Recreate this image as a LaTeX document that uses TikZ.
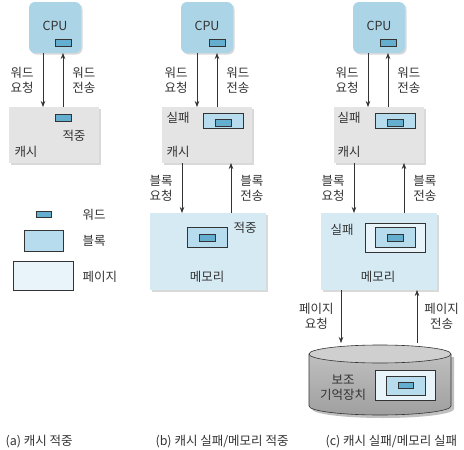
\documentclass[tikz,border=0pt]{standalone}
\usepackage{fontspec}
\setmainfont{Noto Sans CJK KR}
\usetikzlibrary{%
  arrows.meta,%
  shadows%
}
\definecolor{cpublue}{HTML}{ABD4E6}
\definecolor{memblue}{HTML}{D6EAF4}
\definecolor{cachegray}{HTML}{E4E4E4}
\definecolor{wordblue}{HTML}{64AED0}
\definecolor{blockblue}{HTML}{B7DCED}
\definecolor{pageblue}{HTML}{E8F4FA}
\definecolor{linegray}{HTML}{333333}
\tikzset{
  box/.style={inner sep=0pt, outer sep=0pt,
    drop shadow={shadow xshift=1.5pt, shadow yshift=-1.5pt, opacity=.3}},
  cpubox/.style={box, fill=cpublue, rounded corners=6pt,
    minimum width=52pt, minimum height=51pt},
  cachebox/.style={box, fill=cachegray, minimum width=90pt, minimum height=56pt},
  membox/.style={box, fill=memblue, minimum width=116pt, minimum height=77pt},
  wordbox/.style={draw=linegray, line width=.6pt, fill=wordblue, inner sep=0pt,
    minimum width=16pt, minimum height=7pt},
  blockbox/.style={draw=linegray, line width=.6pt, fill=blockblue, inner sep=0pt,
    minimum width=40pt, minimum height=20pt},
  pagebox/.style={draw=linegray, line width=.6pt, fill=pageblue, inner sep=0pt,
    minimum width=60pt, minimum height=29pt},
  arr/.style={draw=linegray, line width=.7pt, -{Stealth[length=6pt,width=4.5pt]}},
  lbl/.style={align=center, inner sep=0pt}
}

\begin{document}
\begin{tikzpicture}[x=1pt, y=1pt,
    every node/.style={font=\fontsize{12.5}{15}\selectfont, text=linegray}]
  \useasboundingbox (0,0) rectangle (464,-450);

  % (a) cache hit
  \node [cpubox] (cpuA) at (55,-27.5) {};
  \node at (55,-26) {CPU};
  \node [wordbox] (cpuwordA) at (63.5,-42.5) {};
  \node [cachebox] (cacheA) at (54,-135) {};
  \node [wordbox] (cachewordA) at (63.5,-118) {};
  \node (hitA) at (74,-136) {적중};
  \node (cachelblA) at (26,-152) {캐시};
  \draw [arr] ([xshift=-12pt]cpuA.south) -- ([xshift=-12pt]cpuA.south |- cacheA.north)
    node [midway, left=9pt, lbl] {워드\\요청};
  \draw [arr] ([xshift=8pt]cpuA.south |- cacheA.north) -- ([xshift=8pt]cpuA.south)
    node [midway, right=9pt, lbl] {워드\\전송};

  % legend
  \node [wordbox, minimum width=15pt, minimum height=6pt] (lgword) at (43.5,-214.5) {};
  \node [anchor=west] at (79,-214.5) {워드};
  \node [blockbox, minimum width=39pt, minimum height=21pt] (lgblock) at (43.5,-240.5) {};
  \node [anchor=west] at (79,-241) {블록};
  \node [pagebox] (lgpage) at (43,-275.5) {};
  \node [anchor=west] at (79,-277) {페이지};

  % (b) cache miss, memory hit
  \node [cpubox] (cpuB) at (207,-27.5) {};
  \node at (207,-26) {CPU};
  \node [wordbox] (cpuwordB) at (217,-42.5) {};
  \node [cachebox] (cacheB) at (207,-135) {};
  \node (missB) at (178,-118) {실패};
  \node [blockbox, minimum height=15pt] (cacheblockB) at (223,-120.5) {};
  \node [wordbox] at (223.5,-122.5) {};
  \node (cachelblB) at (178,-152) {캐시};
  \node [membox] (memB) at (208,-251.5) {};
  \node (hitB) at (245,-228) {적중};
  \node [blockbox] (memblockB) at (207,-237) {};
  \node [wordbox] at (207,-238) {};
  \node (memlblB) at (207,-277) {메모리};
  \draw [arr] ([xshift=-10pt]cpuB.south) -- ([xshift=-10pt]cpuB.south |- cacheB.north)
    node [midway, left=9pt, lbl] {워드\\요청};
  \draw [arr] ([xshift=10pt]cpuB.south |- cacheB.north) -- ([xshift=10pt]cpuB.south)
    node [midway, right=9pt, lbl] {워드\\전송};
  \draw [arr] ([xshift=-25pt]cacheB.south) -- ([xshift=-25pt]cacheB.south |- memB.north)
    node [midway, left=9pt, lbl] {블록\\요청};
  \draw [arr] ([xshift=24pt]cacheB.south |- memB.north) -- ([xshift=24pt]cacheB.south)
    node [midway, right=9pt, lbl] {블록\\전송};

  % (c) cache miss, memory miss
  \node [cpubox] (cpuC) at (379,-27.5) {};
  \node at (379,-26) {CPU};
  \node [wordbox] (cpuwordC) at (388.5,-42.5) {};
  \node [cachebox] (cacheC) at (379,-135) {};
  \node (missC) at (349,-118) {실패};
  \node [blockbox, minimum height=15pt] (cacheblockC) at (395,-120.5) {};
  \node [wordbox] at (395.5,-122.5) {};
  \node (cachelblC) at (349,-152) {캐시};
  \node [membox] (memC) at (379,-251.5) {};
  \node (missmemC) at (342,-230) {실패};
  \node [pagebox] (mempageC) at (395,-237.5) {};
  \node [blockbox] (memblockC) at (395,-237) {};
  \node [wordbox] at (395.5,-237.5) {};
  \node (memlblC) at (378,-277) {메모리};
  % disk
  \coordinate (disk) at (380,-343);
  \begin{scope}[draw=linegray, line width=.6pt]
    \fill [black, opacity=.25] (312,-357) -- (312,-409)
      arc [start angle=180, end angle=360, x radius=71, y radius=9] -- (454,-357) -- cycle;
    \shade [top color=gray!50, bottom color=gray!75]
      (309,-354) -- (309,-406)
      arc [start angle=180, end angle=360, x radius=71, y radius=9] -- (451,-354) -- cycle;
    \draw (309,-354) -- (309,-406)
      arc [start angle=180, end angle=360, x radius=71, y radius=9] -- (451,-354);
    \filldraw [fill=gray!38] (380,-354) ellipse [x radius=71, y radius=9];
  \end{scope}
  \node [lbl] (disklbl) at (343,-388) {보조\\기억장치};
  \node [pagebox, minimum height=30pt] (diskpage) at (405,-385) {};
  \node [blockbox, minimum width=39pt, minimum height=19pt] (diskblock) at (405.5,-385.5) {};
  \node [wordbox, minimum width=15pt, minimum height=6pt] at (405.5,-385.5) {};
  \draw [arr] ([xshift=-11pt]cpuC.south) -- ([xshift=-11pt]cpuC.south |- cacheC.north)
    node [midway, left=9pt, lbl] {워드\\요청};
  \draw [arr] ([xshift=9pt]cpuC.south |- cacheC.north) -- ([xshift=9pt]cpuC.south)
    node [midway, right=9pt, lbl] {워드\\전송};
  \draw [arr] ([xshift=-25pt]cacheC.south) -- ([xshift=-25pt]cacheC.south |- memC.north)
    node [midway, left=9pt, lbl] {블록\\요청};
  \draw [arr] ([xshift=25pt]cacheC.south |- memC.north) -- ([xshift=25pt]cacheC.south)
    node [midway, right=9pt, lbl] {블록\\전송};
  \draw [arr] ([xshift=-38pt]memC.south) -- ([xshift=-38pt]memC.south |- disk)
    node [midway, left=7pt, lbl] {페이지\\요청};
  \draw [arr] ([xshift=38pt]memC.south |- disk) -- ([xshift=38pt]memC.south)
    node [midway, right=7pt, lbl] {페이지\\전송};

  % captions
  \node [anchor=west] (capA) at (2,-442) {(a) 캐시 적중};
  \node [anchor=west] (capB) at (152,-442) {(b) 캐시 실패/메모리 적중};
  \node [anchor=west] (capC) at (322,-442) {(c) 캐시 실패/메모리 실패};
\end{tikzpicture}
\end{document}
